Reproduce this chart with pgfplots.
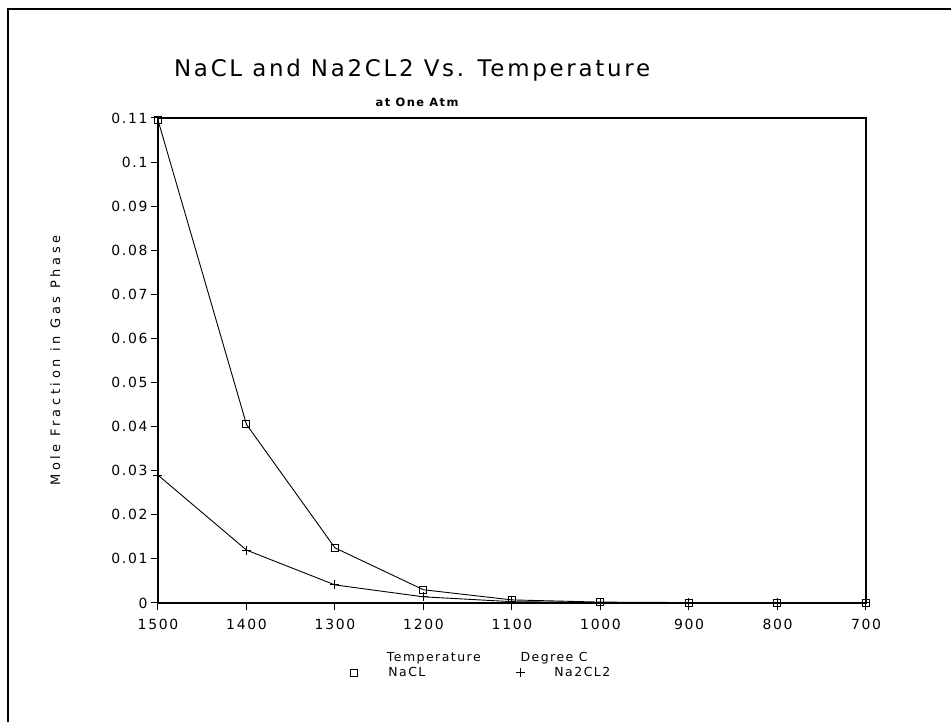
\documentclass[border=0pt]{standalone}
\usepackage{fontspec}
\setmainfont{DejaVu Sans}
\newfontfamily\plotfont[LetterSpace=12]{DejaVu Sans}
\newfontfamily\widefont[LetterSpace=28]{DejaVu Sans}
\usepackage{pgfplots}
\pgfplotsset{compat=1.18}
\begin{document}
\begin{tikzpicture}
\path[use as bounding box] (0,0) rectangle (951bp,722bp);
\draw[line width=2bp] (8bp,0) -- (8bp,713bp) -- (951bp,713bp);
\begin{axis}[
  at={(158bp,119bp)}, anchor=south west,
  width=708bp, height=485bp, scale only axis,
  x dir=reverse,
  xmin=700, xmax=1500, ymin=0, ymax=0.11,
  xtick={700,800,...,1500},
  ytick={0,0.01,...,0.111},
  tick pos=left, tick align=outside,
  major tick length=7bp,
  axis line style={line width=1.4bp},
  every tick/.style={black, line width=1bp},
  /pgf/number format/assume math mode=true,
  /pgf/number format/.cd, fixed, precision=2, 1000 sep={}, /pgfplots/.cd,
  tick label style={font=\plotfont\fontsize{14}{16}\selectfont},
  xticklabel style={yshift=-6bp},
  yticklabel style={xshift=0bp},
  xlabel={Temperature\hspace{3.2em}Degree C},
  xlabel style={font=\plotfont\fontsize{12.5}{14}\selectfont, at={(axis description cs:0.465,-0.113)}, anchor=center},
  ylabel={Mole Fraction in Gas Phase},
  ylabel style={font=\widefont\fontsize{13}{15}\selectfont, at={(axis description cs:-0.145,0.5)}, anchor=center, rotate=0},
  legend columns=2,
  legend style={draw=none, fill=none, inner sep=0pt, at={(axis description cs:0.27,-0.144)}, anchor=west,
    font=\plotfont\fontsize{12.5}{14}\selectfont,
    nodes={inner sep=0pt},
    /tikz/every even column/.append style={column sep=90bp}},
  legend image code/.code={\path[draw=none,fill=none] (-5bp,0bp) rectangle (34bp,0.1bp); \draw[#1] plot[only marks] coordinates {(0bp,0bp)};},
  clip=false,
]
\addplot[black, line width=0.9bp, mark=square, mark size=3.5bp, mark options={solid, line width=1bp}]
coordinates {(1500,0.1095) (1400,0.0405) (1300,0.0125) (1200,0.0030) (1100,0.0007) (1000,0.0002) (900,0.0001) (800,0.0001) (700,0.0001)};
\addlegendentry{NaCL}
\addplot[black, line width=0.9bp, mark=+, mark size=4.5bp, mark options={solid, line width=1bp}]
coordinates {(1500,0.0290) (1400,0.0120) (1300,0.0041) (1200,0.0014) (1100,0.0003) (1000,0.0001) (900,0.00005) (800,0.00003) (700,0.00002)};
\addlegendentry{Na2CL2}
\node[font=\plotfont\fontsize{23}{26}\selectfont, anchor=center] at (axis description cs:0.359,1.099) {NaCL and Na2CL2 Vs. Temperature};
\node[font=\plotfont\bfseries\fontsize{11.5}{13}\selectfont, anchor=center] at (axis description cs:0.366,1.033) {at One Atm};
\end{axis}
\end{tikzpicture}
\end{document}
